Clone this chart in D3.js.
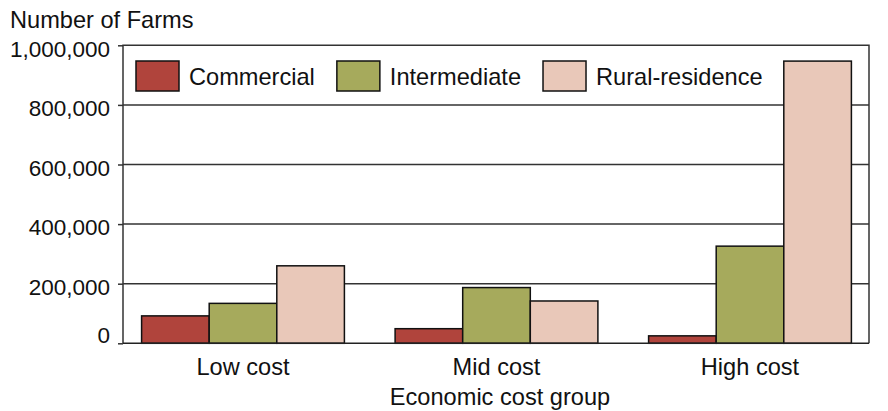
<!DOCTYPE html>
<html>
<head>
<meta charset="utf-8">
<script src="https://cdn.jsdelivr.net/npm/d3@7/dist/d3.min.js"></script>
<style>
  body { margin: 0; background: #fff; }
  svg { display: block; font-family: "Liberation Sans", Arial, sans-serif; }
</style>
</head>
<body>
<svg id="chart" width="888" height="411"></svg>
<script>
// Farm counts by economic cost group and farm type
const groups = ["Low cost", "Mid cost", "High cost"];
const seriesNames = ["Commercial", "Intermediate", "Rural-residence"];
const commercial = [92000, 49000, 25000];
const intermediate = [134000, 187000, 326000];
const ruralResidence = [260000, 142000, 947000];
const yTicks = [0, 200000, 400000, 600000, 800000, 1000000];
const colors = ["#B0443C", "#A6AA5C", "#E9C8B9"];

const seriesValues = [commercial, intermediate, ruralResidence];

const svg = d3.select("#chart");
const plotLeft = 123, plotRight = 869, plotTop = 45.3, plotBottom = 343.3;
const fontSize = 23.6;
const tickFontSize = 22.5;

const y = d3.scaleLinear().domain([0, 1000000]).range([plotBottom, plotTop]);
const x = d3.scaleBand().domain(groups).range([116.25, 876.75])
  .paddingInner(0.2).paddingOuter(0.1);
const xs = d3.scaleBand().domain(seriesNames).range([0, x.bandwidth()]);

// horizontal gridlines
svg.append("g").selectAll("line")
  .data(yTicks.filter(t => t > 0 && t < 1000000))
  .join("line")
  .attr("x1", plotLeft).attr("x2", plotRight)
  .attr("y1", d => y(d)).attr("y2", d => y(d))
  .attr("stroke", "#333").attr("stroke-width", 1.5);

// plot frame (top, left, right)
svg.append("path")
  .attr("d", `M${plotLeft},${plotBottom}V${plotTop}H${plotRight}V${plotBottom}`)
  .attr("fill", "none").attr("stroke", "#333").attr("stroke-width", 1.5);

// bars
const rows = groups.map((g, i) => ({ g, vals: seriesNames.map((s, j) => ({ s, j, v: seriesValues[j][i] })) }));
svg.append("g").selectAll("g")
  .data(rows).join("g")
  .attr("transform", d => `translate(${x(d.g)},0)`)
  .selectAll("rect")
  .data(d => d.vals).join("rect")
  .attr("x", d => xs(d.s))
  .attr("width", xs.bandwidth())
  .attr("y", d => y(d.v))
  .attr("height", d => y(0) - y(d.v))
  .attr("fill", d => colors[d.j])
  .attr("stroke", "#111").attr("stroke-width", 1.5);

// baseline
svg.append("line")
  .attr("x1", plotLeft).attr("x2", plotRight)
  .attr("y1", plotBottom).attr("y2", plotBottom)
  .attr("stroke", "#222").attr("stroke-width", 1.5);

// y axis
const yAxis = d3.axisLeft(y).tickValues(yTicks).tickSize(5).tickPadding(8)
  .tickFormat(d3.format(","));
const ya = svg.append("g").attr("transform", `translate(${plotLeft},0)`).call(yAxis);
ya.select(".domain").remove();
ya.selectAll(".tick line").attr("stroke", "#333").attr("stroke-width", 1.5);
ya.selectAll(".tick text")
  .attr("font-size", tickFontSize).attr("fill", "#111")
  .attr("font-family", "Liberation Sans, Arial, sans-serif")
  .attr("dy", d => d === 0 ? "-0.02em" : "0.48em");

// x axis labels
const xa = svg.append("g").attr("transform", `translate(0,${plotBottom})`)
  .call(d3.axisBottom(x).tickSize(0).tickPadding(0));
xa.select(".domain").remove();
xa.selectAll(".tick text")
  .attr("font-size", fontSize).attr("fill", "#111")
  .attr("font-family", "Liberation Sans, Arial, sans-serif")
  .attr("dy", null).attr("y", 32);

// axis titles
svg.append("text").attr("x", 10).attr("y", 28)
  .attr("font-size", fontSize).attr("fill", "#111").text("Number of Farms");
svg.append("text").attr("x", 500).attr("y", 405)
  .attr("text-anchor", "middle")
  .attr("font-size", fontSize).attr("fill", "#111").text("Economic cost group");

// legend
const legend = svg.append("g");
let lx = 136;
seriesNames.forEach((s, j) => {
  legend.append("rect").attr("x", lx).attr("y", 61).attr("width", 43).attr("height", 30)
    .attr("fill", colors[j]).attr("stroke", "#111").attr("stroke-width", 1.5);
  const t = legend.append("text").attr("x", lx + 53).attr("y", 85)
    .attr("font-size", fontSize).attr("fill", "#111").text(s);
  lx += 53 + t.node().getComputedTextLength() + 22;
});
</script>
</body>
</html>
